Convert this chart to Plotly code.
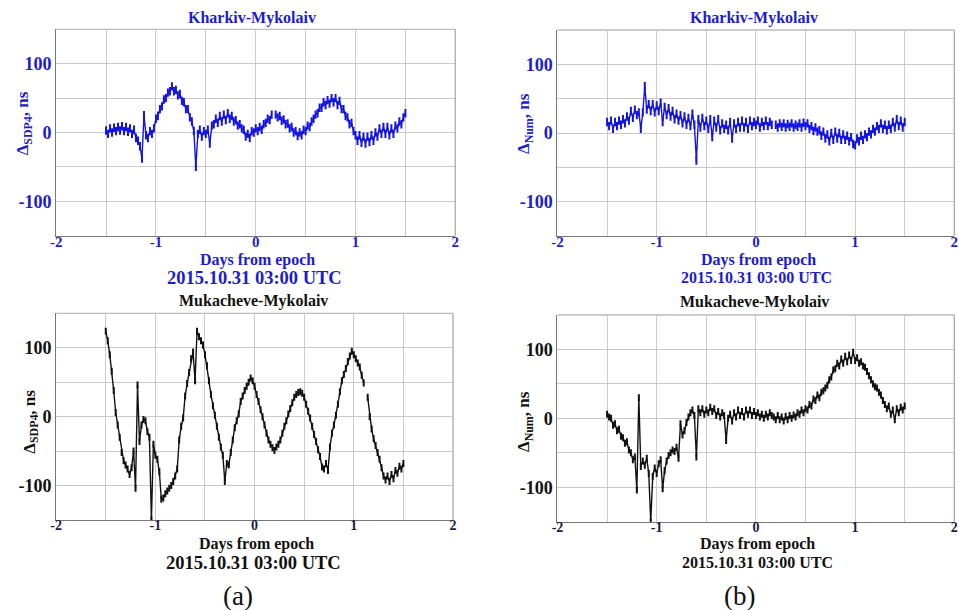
import plotly.graph_objects as go

# ---------------- data ----------------
DAYS = [-1.50, -1.48, -1.46, -1.44, -1.42, -1.40, -1.38, -1.36, -1.34, -1.32,
        -1.30, -1.28, -1.26, -1.24, -1.22, -1.20, -1.18, -1.16, -1.14, -1.12,
        -1.10, -1.08, -1.06, -1.04, -1.02, -1.00, -0.98, -0.96, -0.94, -0.92,
        -0.90, -0.88, -0.86, -0.84, -0.82, -0.80, -0.78, -0.76, -0.74, -0.72,
        -0.70, -0.68, -0.66, -0.64, -0.62, -0.60, -0.58, -0.56, -0.54, -0.52,
        -0.50, -0.48, -0.46, -0.44, -0.42, -0.40, -0.38, -0.36, -0.34, -0.32,
        -0.30, -0.28, -0.26, -0.24, -0.22, -0.20, -0.18, -0.16, -0.14, -0.12,
        -0.10, -0.08, -0.06, -0.04, -0.02, 0.00, 0.02, 0.04, 0.06, 0.08,
        0.10, 0.12, 0.14, 0.16, 0.18, 0.20, 0.22, 0.24, 0.26, 0.28,
        0.30, 0.32, 0.34, 0.36, 0.38, 0.40, 0.42, 0.44, 0.46, 0.48,
        0.50, 0.52, 0.54, 0.56, 0.58, 0.60, 0.62, 0.64, 0.66, 0.68,
        0.70, 0.72, 0.74, 0.76, 0.78, 0.80, 0.82, 0.84, 0.86, 0.88,
        0.90, 0.92, 0.94, 0.96, 0.98, 1.00, 1.02, 1.04, 1.06, 1.08,
        1.10, 1.12, 1.14, 1.16, 1.18, 1.20, 1.22, 1.24, 1.26, 1.28,
        1.30, 1.32, 1.34, 1.36, 1.38, 1.40, 1.42, 1.44, 1.46, 1.48,
        1.50]

# Kharkiv-Mykolaiv, SDP4 (top-left)
KM_SDP4 = [3, -2, 6, 0, 7, 2, 8, 3, 9, 2,
           8, 1, 6, -2, 4, -8, -12, -20, -38, 25,
           -4, -8, 2, -2, 6, 20, 24, 34, 38, 48,
           50, 58, 60, 67, 60, 62, 54, 56, 46, 44,
           34, 34, 22, 16, 2, -50, -2, 4, -6, 2,
           -2, 4, -16, 10, 12, 20, 14, 24, 16, 26,
           18, 28, 20, 24, 16, 18, 10, 12, 6, 4,
           -6, -2, -8, 2, 0, 6, 2, 8, 4, 12,
           14, 20, 18, 26, None, 26, 22, 24, 17, 19,
           12, 13, 6, 8, 0, 2, -5, 0, -4, 4,
           2, 10, 8, 16, 20, 26, 28, 36, 36, 44,
           40, 47, 42, 50, 44, 50, 40, 46, 34, 34,
           24, 22, 12, 14, 2, -4, -12, -4, -15, -6,
           -16, -6, -14, -4, -12, 0, -6, 6, -2, 8,
           -2, 8, -4, 6, -2, 10, 6, 16, 12, 22,
           28]

# Kharkiv-Mykolaiv, Num (top-right)
KM_NUM = [16, 10, 18, 6, 16, 10, 18, 12, 20, 14,
          24, 18, 32, 22, 34, 26, 30, 6, 30, 68,
          34, 42, 32, 42, 30, 40, 32, 44, 16, 38,
          26, 36, 24, 32, 20, 28, 18, 26, 14, 24,
          12, 22, 10, 28, 12, -40, 20, 8, 22, 10,
          18, 6, 20, -6, 18, 8, 20, 4, 14, 6,
          12, 4, 16, -8, 14, 6, 16, 8, 18, 8,
          16, 6, 18, 10, 16, 12, 18, 8, 16, 10,
          18, 10, 16, 12, None, 12, 8, 14, 9, 14,
          8, 13, 9, 14, 8, 12, 9, 14, 8, 15,
          10, 14, 6, 10, 3, 8, 2, 4, -4, 2,
          -8, -2, -12, 0, -10, 2, -8, 0, -10, -2,
          -10, -4, -12, -6, -16, -18, -8, -12, -4, -10,
          -2, -6, 2, -2, 6, 2, 10, 6, 14, 6,
          12, 4, 12, 6, 16, 8, 20, 10, 18, 8,
          16]

# Mukacheve-Mykolaiv, SDP4 (bottom-left)
MM_SDP4 = [124, 110, 90, 66, 38, 6, -12, -30, -52, -64,
           -70, -76, -84, -74, -50, -104, 46, -36, -12, -4,
           -6, -22, -30, -150, -40, -56, -62, -80, -120, -118,
           -112, -108, -104, -100, -94, -86, -76, -34, -14, -2,
           30, 48, 64, 84, 94, 52, 124, 116, 110, 104,
           90, 74, 52, 32, 16, 2, -14, -30, -44, -56,
           -94, -68, -70, -52, -34, -16, -6, 4, 22, 30,
           38, 44, 50, 56, 52, 44, 32, 22, 10, 0,
           -12, -24, -34, -40, -45, -49, -44, -40, -34, -24,
           -14, -6, 4, 12, 20, 28, 32, 35, 36, 34,
           28, 18, 8, -2, -14, -26, -36, -48, -58, -73,
           -76, -68, -78, -44, -24, -12, 2, 18, 36, 52,
           61, 70, 80, 88, 95, 90, 84, 78, 72, 60,
           49, None, 28, 0, -18, -32, -42, -52, -62, -74,
           -86, -92, -86, -94, -84, -90, -78, -82, -72, -76,
           -68]

# Mukacheve-Mykolaiv, Num (bottom-right)
MM_NUM = [6, 2, 0, -10, -8, -18, -16, -26, -28, -36,
          -34, -46, -50, -60, -56, -104, 30, -70, -62, -68,
          -58, -80, -150, -84, -72, -80, -66, -60, -102, -76,
          -62, -54, -50, -46, -48, -42, -58, -8, -24, -18,
          -6, 2, 8, 12, 4, -56, 14, 8, 14, 6,
          12, 8, 16, 10, 14, 4, 10, 2, 8, 4,
          -32, 0, 6, -4, 8, 2, 12, 4, 10, 2,
          12, 6, 12, 4, 10, 4, 8, 2, 6, 0,
          6, 2, 8, 4, 2, -2, 4, -2, 2, -4,
          3, -2, 4, 0, 5, 2, 8, 6, 12, 8,
          14, 12, 20, 18, 28, 26, 34, 30, 38, 40,
          44, 48, 56, 60, 70, 72, 80, 76, 86, 80,
          90, 82, 92, 84, 96, 84, 88, 80, 82, 76,
          74, 68, 62, 56, 50, 46, 44, 38, 34, 26,
          20, 14, 18, 6, 12, -2, 14, 8, 16, 12,
          18]

X_TICKS = [-2, -1, 0, 1, 2]
X_TICKTEXT = ["-2", "-1", "0", "1", "2"]
Y_TICKS = [-100, 0, 100]
Y_TICKTEXT = ["-100", "0", "100"]

TITLES = ["Kharkiv-Mykolaiv", "Kharkiv-Mykolaiv", "Mukacheve-Mykolaiv", "Mukacheve-Mykolaiv"]
YLABELS = ["Δ<sub>SDP4</sub>, ns", "Δ<sub>Num</sub>, ns", "Δ<sub>SDP4</sub>, ns", "Δ<sub>Num</sub>, ns"]
XLABEL = "Days from epoch"
EPOCH = "2015.10.31 03:00 UTC"
SERIES = [KM_SDP4, KM_NUM, MM_SDP4, MM_NUM]

# ---------------- layout helpers ----------------
W, H = 959, 610
FONT = "Liberation Serif"
BLUE_TXT = "#1d1dcc"
BLUE_DAT = "#1414e2"
BLACK_TXT = "#111111"
NAVY_TXT = "#1a1a44"
GRID = "#cacaca"

def PX(px):
    return px / W

def PY(py):
    return 1 - py / H

# plot areas in pixels: (left, right, top, bottom)
AREAS = [(50.7, 454.0, 29.3, 235.7),
         (557.3, 958.3, 30.0, 236.0),
         (50.7, 451.7, 313.3, 520.0),
         (557.3, 958.3, 315.0, 521.7)]

# text positions (pixel centres)
TITLE_POS = [(249, 18), (755.5, 18.5), (250, 301), (756, 302)]
XLAB_POS = [(254, 260), (760, 260), (253, 544), (759.5, 544)]
EPOCH_POS = [(251, 277.5), (758, 277), (250, 562.5), (759, 562.5)]
YLAB_POS = [(18.5, 123), (524.5, 124), (25, 422), (524.5, 422)]
EPOCH_SIZE = [18.5, 16, 18.5, 16]
YTICK_SIZE = [18, 18, 18, 18]
XTICK_SIZE = [15, 15, 14, 14]
MARK_SIZE = [6, 6, 5, 5]

fig = go.Figure()
annotations = []


def ann(pos, text, size, color, angle=0, bold=True):
    annotations.append(dict(
        x=PX(pos[0]), y=PY(pos[1]), xref="paper", yref="paper",
        xanchor="center", yanchor="middle", showarrow=False,
        text=text, textangle=angle,
        font=dict(family=FONT, size=size, color=color,
                  weight="bold" if bold else "normal")))


for k in range(4):
    sfx = "" if k == 0 else str(k + 1)
    blue = k < 2
    dcol = BLUE_DAT if blue else "#111111"
    tcol = BLUE_TXT if blue else BLACK_TXT
    xtcol = BLUE_TXT if blue else NAVY_TXT
    fig.add_trace(go.Scatter(
        x=DAYS, y=SERIES[k], xaxis="x" + sfx, yaxis="y" + sfx,
        mode="lines+markers", connectgaps=False,
        line=dict(color=dcol, width=1.4),
        marker=dict(symbol="line-ns", size=MARK_SIZE[k],
                    line=dict(color=dcol, width=2)),
        showlegend=False, hoverinfo="skip"))
    l, r, t, b = AREAS[k]
    fig.layout["xaxis" + sfx] = dict(
        domain=[PX(l), PX(r)], anchor="y" + sfx, range=[-2, 2],
        tickmode="array", tickvals=X_TICKS, ticktext=X_TICKTEXT,
        showgrid=True, gridcolor=GRID, gridwidth=1.3,
        minor=dict(tick0=0, dtick=0.5, showgrid=True, gridcolor=GRID,
                   gridwidth=1.3, ticks=""),
        zeroline=False, showline=True, linecolor="#777777", linewidth=1.3,
        ticks="", ticklabelstandoff=-8,
        tickfont=dict(family=FONT, size=XTICK_SIZE[k], color=xtcol, weight="bold"),
        fixedrange=True)
    fig.layout["yaxis" + sfx] = dict(
        domain=[PY(b), PY(t)], anchor="x" + sfx, range=[-150, 150],
        tickmode="array", tickvals=Y_TICKS, ticktext=Y_TICKTEXT,
        showgrid=True, gridcolor=GRID, gridwidth=1.3,
        minor=dict(tick0=0, dtick=50, showgrid=True, gridcolor=GRID,
                   gridwidth=1.3, ticks=""),
        zeroline=False, showline=True, linecolor="#777777", linewidth=1.3,
        ticks="", tickfont=dict(family=FONT, size=YTICK_SIZE[k], color=tcol, weight="bold"),
        fixedrange=True)
    fig.add_shape(type="line", xref="paper", yref="paper",
                  x0=PX(l), x1=PX(r), y0=PY(t), y1=PY(t),
                  line=dict(color="#bdbdbd", width=1.3))
    fig.add_shape(type="line", xref="paper", yref="paper",
                  x0=PX(r), x1=PX(r), y0=PY(b), y1=PY(t),
                  line=dict(color="#aaaaaa", width=1.3))

    ann(TITLE_POS[k], TITLES[k], 16, tcol)
    ann(XLAB_POS[k], XLABEL, 16, tcol)
    ann(EPOCH_POS[k], EPOCH, EPOCH_SIZE[k], tcol)
    ann(YLAB_POS[k], YLABELS[k], 17, tcol, angle=-90)

for lab, pos in (("(a)", (234, 596)), ("(b)", (741, 596))):
    annotations.append(dict(
        x=PX(pos[0]), y=PY(pos[1]), xref="paper", yref="paper",
        xanchor="center", yanchor="middle", showarrow=False, text=lab,
        font=dict(family=FONT, size=27, color="#111111")))

fig.update_layout(
    width=W, height=H, autosize=False,
    margin=dict(l=0, r=0, t=0, b=0),
    paper_bgcolor="white", plot_bgcolor="white",
    annotations=annotations)

fig.write_html(
    "out.html", config={"displayModeBar": False},
    post_script="document.body.style.margin='0';document.body.style.padding='0';"
                "document.body.style.overflow='hidden';")
